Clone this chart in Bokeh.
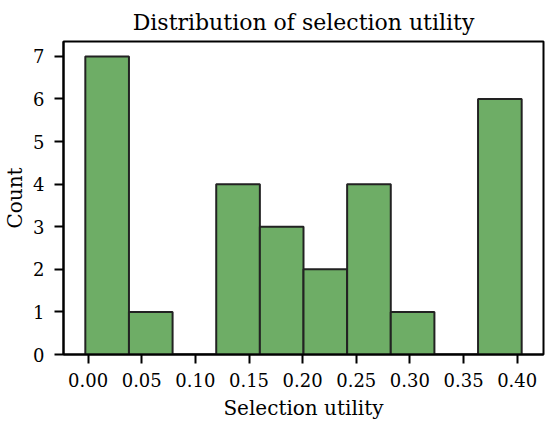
import numpy as np
from bokeh.plotting import figure
from bokeh.models import FixedTicker, Range1d
from bokeh.embed import file_html
from bokeh.resources import INLINE

# ---- data ----
counts = [7, 1, 0, 4, 3, 2, 4, 1, 0, 6]
data_min = -0.0026
data_max = 0.4042
xticks = [0.00, 0.05, 0.10, 0.15, 0.20, 0.25, 0.30, 0.35, 0.40]
xtick_labels = ["0.00", "0.05", "0.10", "0.15", "0.20", "0.25", "0.30", "0.35", "0.40"]
yticks = [0, 1, 2, 3, 4, 5, 6, 7]

edges = np.linspace(data_min, data_max, len(counts) + 1)
lefts = edges[:-1]
rights = edges[1:]

FONT = "DejaVu Serif"
span = data_max - data_min

p = figure(
    width=550, height=423,
    min_border_left=63, min_border_right=7,
    min_border_top=40, min_border_bottom=69,
    output_backend="svg", toolbar_location=None,
    x_range=Range1d(data_min - 0.05 * span, data_max + 0.05 * span),
    y_range=Range1d(0, max(counts) * 1.05),
    title="Distribution of selection utility",
)

p.quad(left=lefts, right=rights, bottom=0, top=counts,
       fill_color="#6EAD66", line_color="#222222", line_width=2)

p.xgrid.visible = False
p.ygrid.visible = False
p.background_fill_color = "white"
p.border_fill_color = "white"
p.outline_line_color = "black"
p.outline_line_width = 2
p.outline_line_alpha = 1

p.title.text_font = FONT
p.title.text_font_size = "22px"
p.title.text_font_style = "normal"
p.title.align = "center"
p.title.text_color = "black"
p.title.standoff = 14

p.xaxis.ticker = FixedTicker(ticks=xticks)
p.xaxis.major_label_overrides = {t: s for t, s in zip(xticks, xtick_labels)}
p.yaxis.ticker = FixedTicker(ticks=yticks)

for ax in (p.xaxis[0], p.yaxis[0]):
    ax.axis_line_width = 2
    ax.axis_line_color = "black"
    ax.major_tick_line_width = 2
    ax.major_tick_line_color = "black"
    ax.major_tick_out = 9
    ax.major_tick_in = 0
    ax.minor_tick_line_color = None
    ax.major_label_text_font = FONT
    ax.major_label_text_font_size = "18px"
    ax.major_label_text_color = "black"
    ax.axis_label_text_font = FONT
    ax.axis_label_text_font_size = "20px"
    ax.axis_label_text_font_style = "normal"
    ax.axis_label_text_color = "black"

p.xaxis.major_label_standoff = 9
p.yaxis.major_label_standoff = 10
p.xaxis.axis_label = "Selection utility"
p.yaxis.axis_label = "Count"
p.xaxis.axis_label_standoff = 6
p.yaxis.axis_label_standoff = 3

open("out.html", "w").write(file_html(p, INLINE))
